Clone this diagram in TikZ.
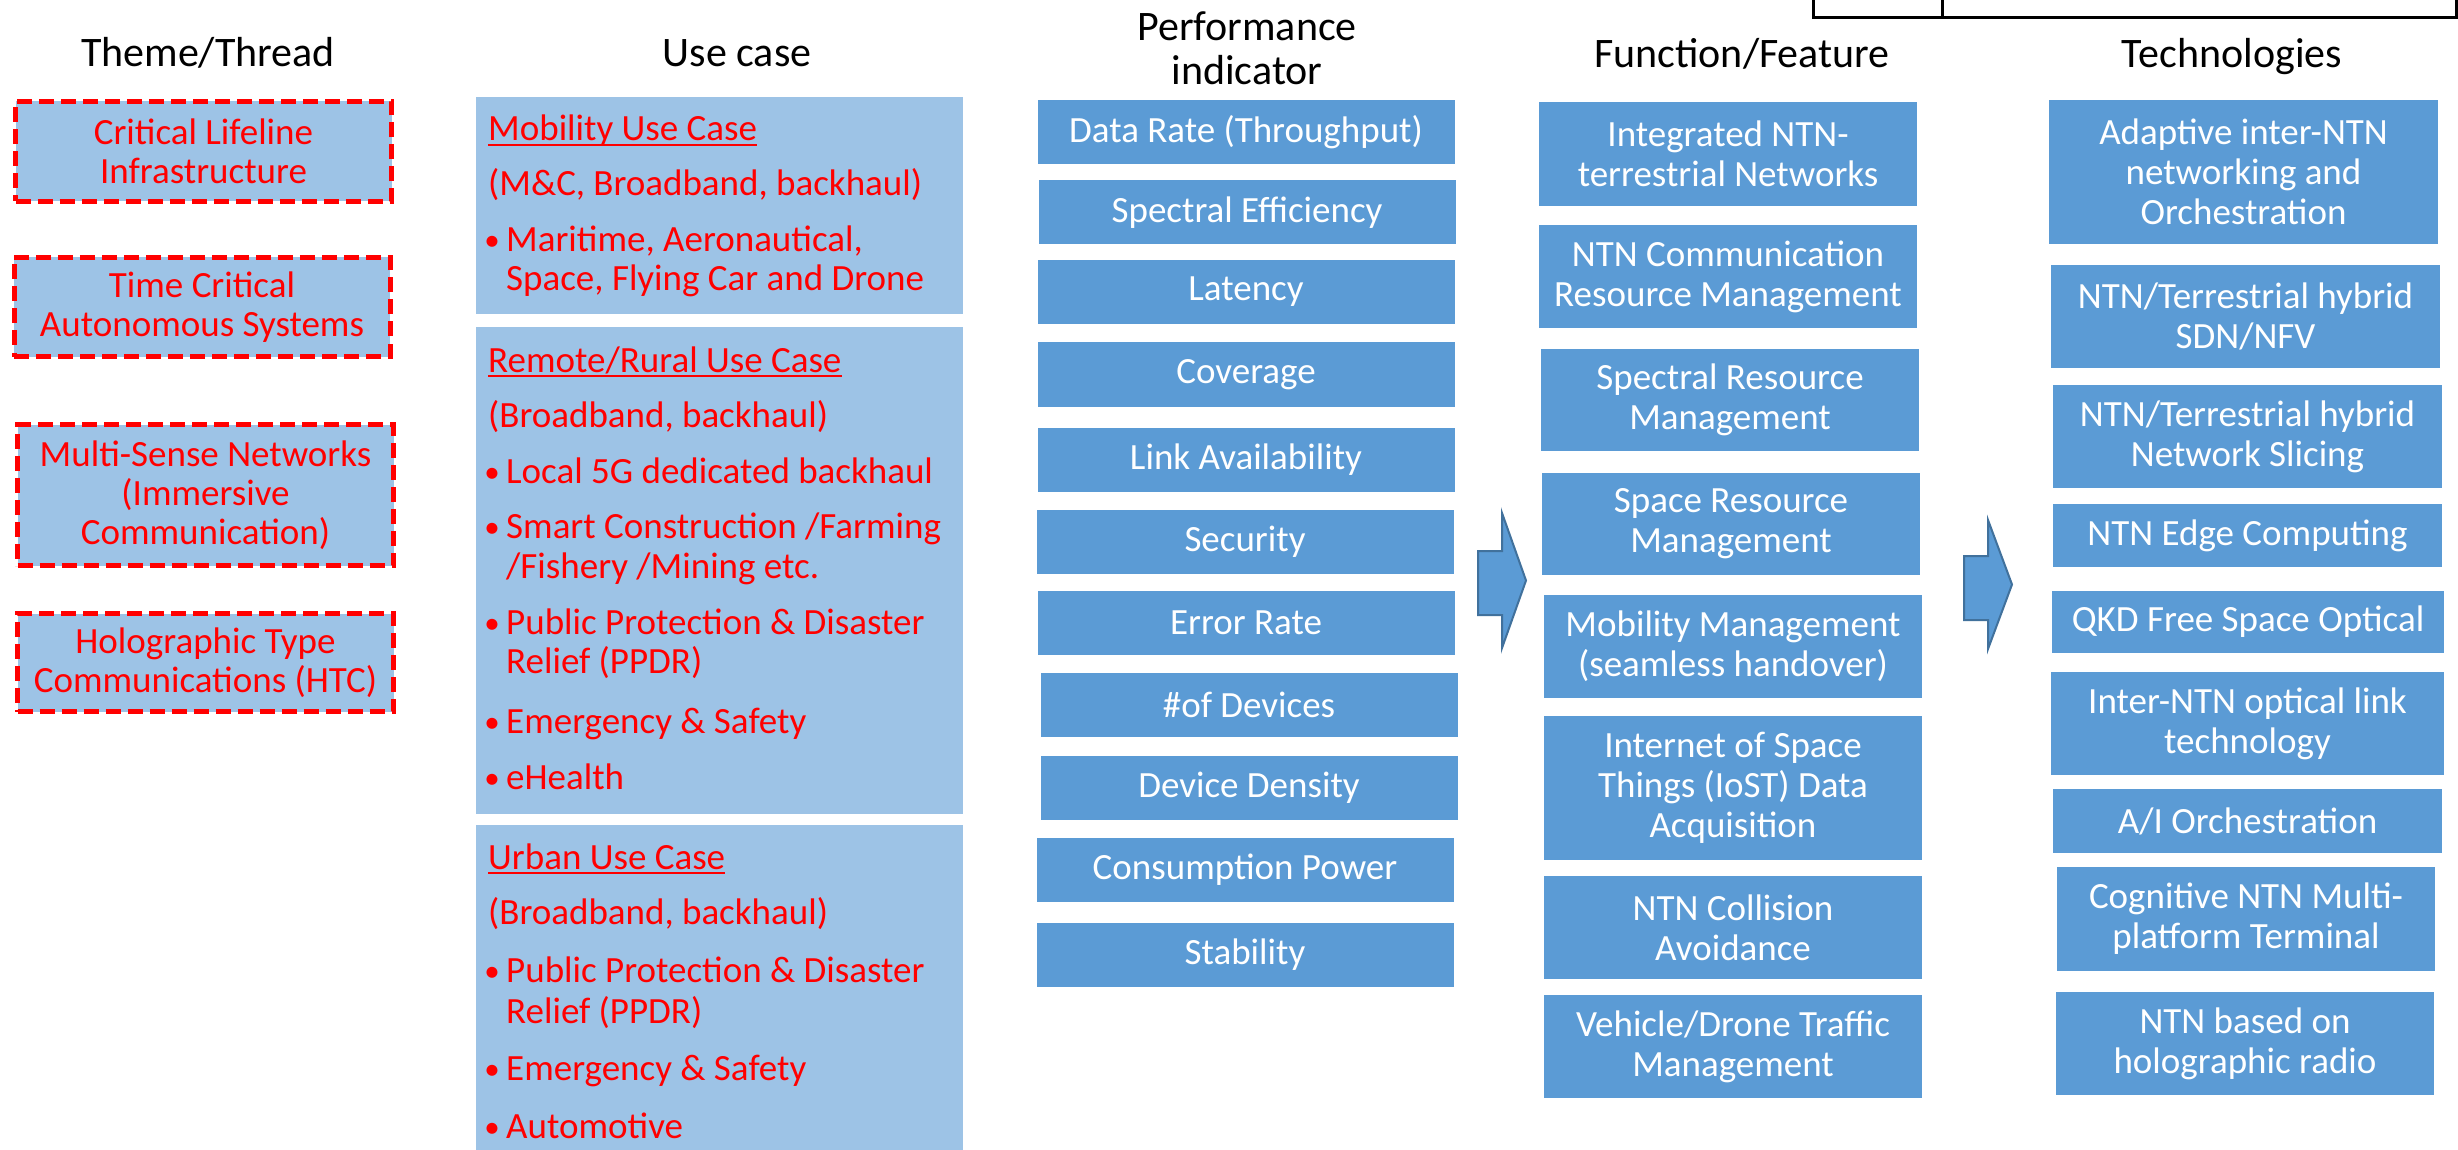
\documentclass[tikz,border=0pt]{standalone}
\usepackage{fontspec}
\setmainfont{Carlito}
\usepackage{tikz}
\usetikzlibrary{positioning}

\definecolor{tileblue}{HTML}{5B9BD5}
\definecolor{paleblue}{HTML}{9DC3E6}
\definecolor{tileedge}{HTML}{41719C}
\definecolor{casered}{HTML}{FF0000}

\tikzset{
    colhead/.style={anchor=base, inner sep=0pt, font=\fontsize{42}{44}\selectfont},
    theme/.style={draw=casered, fill=paleblue, line width=5pt, dash pattern=on 15pt off 7pt,
        text=casered, align=center, inner sep=0pt, minimum width=376pt,
        font=\fontsize{37}{39}\selectfont},
    casebox/.style={fill=paleblue, inner sep=0pt, minimum width=487pt},
    caseline/.style={anchor=base west, inner sep=0pt, text=casered, font=\fontsize{37}{40}\selectfont},
    casedot/.style={anchor=base, inner sep=0pt, text=casered, font=\fontsize{31}{34}\selectfont},
    tile/.style={fill=tileblue, text=white, align=center, inner sep=0pt, font=\fontsize{37}{40}\selectfont},
    blockarrow/.style={fill=tileblue, draw=tileedge, line width=2pt, line join=miter}
}

\begin{document}
\begin{tikzpicture}[x=1pt, y=-1pt]
    \useasboundingbox (0, 0) rectangle (2458, 1150);
    \fill [white] (0, 0) rectangle (2458, 1150);

    % corner of the table above
    \draw [line width=3pt] (1813, -10) |- (2456, 18) -- (2456, -10);
    \draw [line width=3pt] (1942, -10) -- (1942, 18);

    \node [colhead] (hTheme) at (208, 67) {Theme/Thread};
    \node [colhead] (hCase) at (737, 67) {Use case};
    \node [colhead, anchor=center, align=center] (hPerf) at (1247, 48) {Performance\\indicator};
    \node [colhead] (hFunc) at (1742, 68) {Function/Feature};
    \node [colhead] (hTech) at (2232, 68) {Technologies};

    % themes
    \node [theme, minimum height=100pt] (th1) at (203.5, 151.5) {Critical Lifeline\\Infrastructure};
    \node [theme, minimum height=99pt] (th2) at (202, 307) {Time Critical\\Autonomous Systems};
    \node [theme, minimum height=141pt] (th3) at (205.5, 495) {Multi-Sense Networks\\(Immersive\\Communication)};
    \node [theme, minimum height=98pt] (th4) at (205.5, 662.5) {Holographic Type\\Communications (HTC)};

    % use cases
    \node [casebox, minimum height=217pt] (case1) at (719.5, 205.5) {};
    \node [casebox, minimum height=487pt] (case2) at (719.5, 570.5) {};
    \node [casebox, minimum height=335pt] (case3) at (719.5, 992.5) {};

    \foreach \x/\y/\t [count=\i] in {
        488/141/{Mobility Use Case},
        488/196/{(M\&C, Broadband, backhaul)},
        506/252/{Maritime, Aeronautical,},
        506/291/{Space, Flying Car and Drone},
        488/372/{Remote/Rural Use Case},
        488/427/{(Broadband, backhaul)},
        506/483/{Local 5G dedicated backhaul},
        506/538/{Smart Construction /Farming},
        506/578/{/Fishery /Mining etc.},
        506/634/{Public Protection \& Disaster},
        506/673/{Relief (PPDR)},
        506/733/{Emergency \& Safety},
        506/789/{eHealth},
        488/869/{Urban Use Case},
        488/924/{(Broadband, backhaul)},
        506/982/{Public Protection \& Disaster},
        506/1023/{Relief (PPDR)},
        506/1080/{Emergency \& Safety},
        506/1138/{Automotive}}
        \node [caseline] (line\i) at (\x, \y) {\t};

    % underlined titles
    \foreach \n in {1, 5, 14}
        \draw [casered, line width=2pt] ([yshift=-3.6pt]line\n.base west) -- ([yshift=-3.6pt]line\n.base east);

    \foreach \y [count=\i] in {252, 483, 538, 634, 733, 789, 982, 1080, 1138}
        \node [casedot] (dot\i) at (492, \y - 1) {\textbullet};

    % performance indicators
    \foreach \x/\y/\t [count=\i] in {
        1246/132/{Data Rate (Throughput)},
        1247/212.5/{Spectral Efficiency},
        1246/292/{Latency},
        1246/374.5/{Coverage},
        1246/459.5/{Link Availability},
        1245/542/{Security},
        1246/623/{Error Rate},
        1249/705/{\#of Devices},
        1249/788/{Device Density},
        1245/870/{Consumption Power},
        1245/955/{Stability}}
        \node [tile, minimum width=417pt, minimum height=64pt] (kpi\i) at (\x, \y) {\t};

    % functions
    \foreach \x/\y/\h/\t [count=\i] in {
        1728/154/104/{Integrated NTN-\\terrestrial Networks},
        1728/276.5/103/{NTN Communication\\Resource Management},
        1730/400/102/{Spectral Resource\\Management},
        1731/524/102/{Space Resource\\Management},
        1733/646.5/103/{Mobility Management\\(seamless handover)},
        1733/788/144/{Internet of Space\\Things (IoST) Data\\Acquisition},
        1733/927.5/103/{NTN Collision\\Avoidance},
        1733/1046.5/103/{Vehicle/Drone Traffic\\Management}}
        \node [tile, minimum width=378pt, minimum height=\h pt] (feat\i) at (\x, \y) {\t};

    % technologies
    \foreach \x/\y/\w/\h/\t [count=\i] in {
        2243.5/172/389/144/{Adaptive inter-NTN\\networking and\\Orchestration},
        2245.5/316.5/389/103/{NTN/Terrestrial hybrid\\SDN/NFV},
        2247.5/436.5/389/103/{NTN/Terrestrial hybrid\\Network Slicing},
        2247.5/535.5/389/63/{NTN Edge Computing},
        2248/622/392/62/{QKD Free Space Optical},
        2247.5/723.5/393/103/{Inter-NTN optical link\\technology},
        2247.5/821/389/64/{A/I Orchestration},
        2246/919/378/104/{Cognitive NTN Multi-\\platform Terminal},
        2245/1043.5/378/103/{NTN based on\\holographic radio}}
        \node [tile, minimum width=\w pt, minimum height=\h pt] (tech\i) at (\x, \y) {\t};

    \draw [blockarrow] (1478, 551) -- (1502, 551) -- (1502, 513) -- (1526, 580.5) -- (1502, 648) -- (1502, 615) -- (1478, 615) -- cycle;
    \draw [blockarrow] (1964, 556) -- (1988, 556) -- (1988, 520) -- (2012, 584.5) -- (1988, 649) -- (1988, 620) -- (1964, 620) -- cycle;
\end{tikzpicture}
\end{document}
